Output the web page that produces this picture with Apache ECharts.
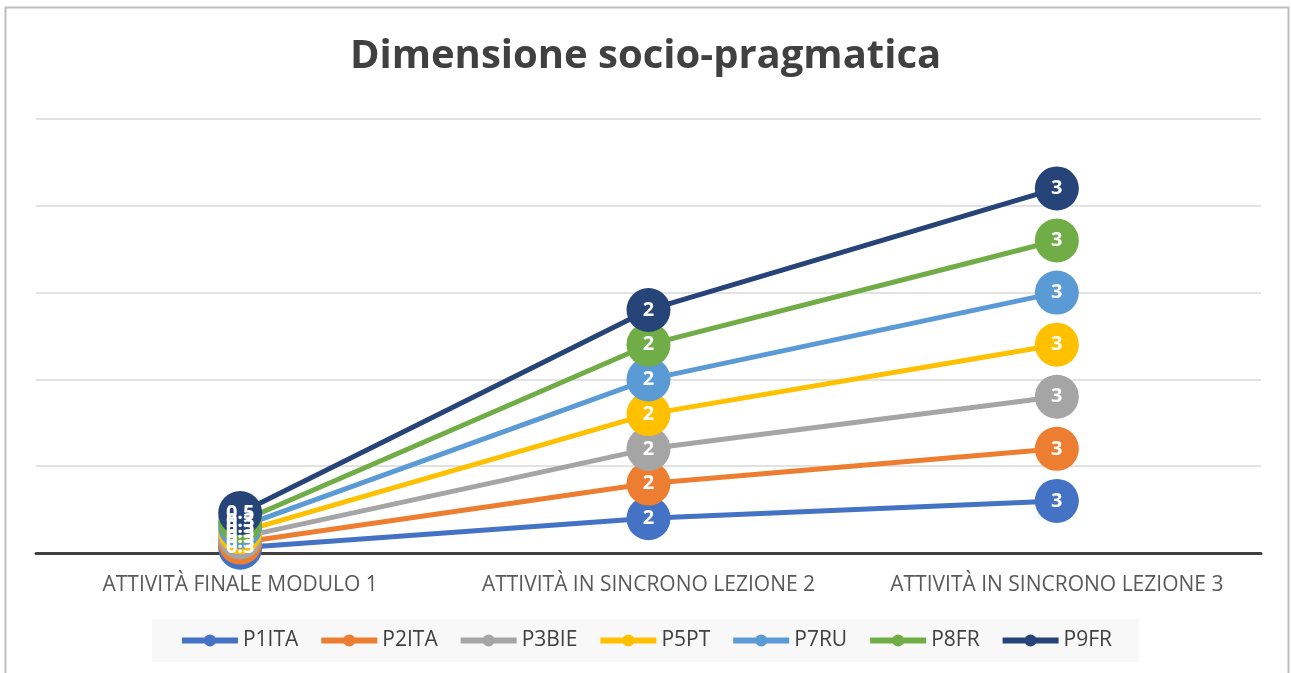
<!DOCTYPE html>
<html>
<head>
<meta charset="utf-8">
<script src="https://cdn.jsdelivr.net/npm/echarts@6/dist/echarts.min.js"></script>
<style>
html, body { margin: 0; padding: 0; background: #fff; }
#chart { width: 1291px; height: 673px; }
</style>
</head>
<body>
<div id="chart"></div>
<script>
// categories and series (stacked lines)
var categories = ['ATTIVITÀ FINALE MODULO 1', 'ATTIVITÀ IN SINCRONO LEZIONE 2', 'ATTIVITÀ IN SINCRONO LEZIONE 3']
var seriesNames = ['P1ITA', 'P2ITA', 'P3BIE', 'P5PT', 'P7RU', 'P8FR', 'P9FR']
var P1ITA = [0.3, 2, 3]
var P2ITA = [0.3, 2, 3]
var P3BIE = [0.3, 2, 3]
var P5PT = [0.3, 2, 3]
var P7RU = [0.3, 2, 3]
var P8FR = [0.3, 2, 3]
var P9FR = [0.5, 2, 3]
var seriesValues = [P1ITA, P2ITA, P3BIE, P5PT, P7RU, P8FR, P9FR]
var colors = ['#4472C4', '#ED7D31', '#A5A5A5', '#FFC000', '#5B9BD5', '#70AD47', '#264478']

var font = '"Open Sans", Lato, sans-serif'

var series = seriesNames.map(function (name, i) {
  return {
    name: name,
    type: 'line',
    stack: 'total',
    data: seriesValues[i],
    symbol: 'circle',
    symbolSize: 44,
    lineStyle: { width: 5, color: colors[i] },
    itemStyle: { color: colors[i] },
    label: {
      show: true,
      position: 'inside',
      color: '#fff',
      fontWeight: 'bold',
      fontSize: 20,
      fontFamily: font
    },
    emphasis: { disabled: true }
  }
})

var chart = echarts.init(document.getElementById('chart'))
chart.setOption({
  animation: false,
  color: colors,
  title: {
    text: 'Dimensione socio-pragmatica',
    left: 'center',
    top: 32,
    textStyle: { fontSize: 40, fontWeight: 'bold', color: '#404040', fontFamily: font }
  },
  graphic: [{
    type: 'rect',
    shape: { x: 5.5, y: 7.5, width: 1283, height: 700 },
    style: { fill: null, stroke: '#bfbfbf', lineWidth: 2 },
    z: -1
  }],
  legend: {
    bottom: 11,
    left: 'center',
    data: seriesNames,
    backgroundColor: '#f8f8f8',
    padding: [11, 27, 11, 27],
    itemWidth: 56,
    itemHeight: 15,
    itemGap: 20,
    lineStyle: { width: 6 },
    textStyle: { fontSize: 21, color: '#404040', fontFamily: font }
  },
  grid: { left: 36, right: 30, top: 119, bottom: 120 },
  xAxis: {
    type: 'category',
    data: categories,
    axisLine: { lineStyle: { color: '#404040', width: 3 } },
    axisTick: { show: false },
    axisLabel: { interval: 0, fontSize: 21, color: '#595959', margin: 22, fontFamily: font }
  },
  yAxis: {
    type: 'value',
    min: 0,
    max: 25,
    interval: 5,
    axisLabel: { show: false },
    axisLine: { show: false },
    axisTick: { show: false },
    splitLine: { lineStyle: { color: '#d9d9d9', width: 1.5 } }
  },
  series: series
})
</script>
</body>
</html>
